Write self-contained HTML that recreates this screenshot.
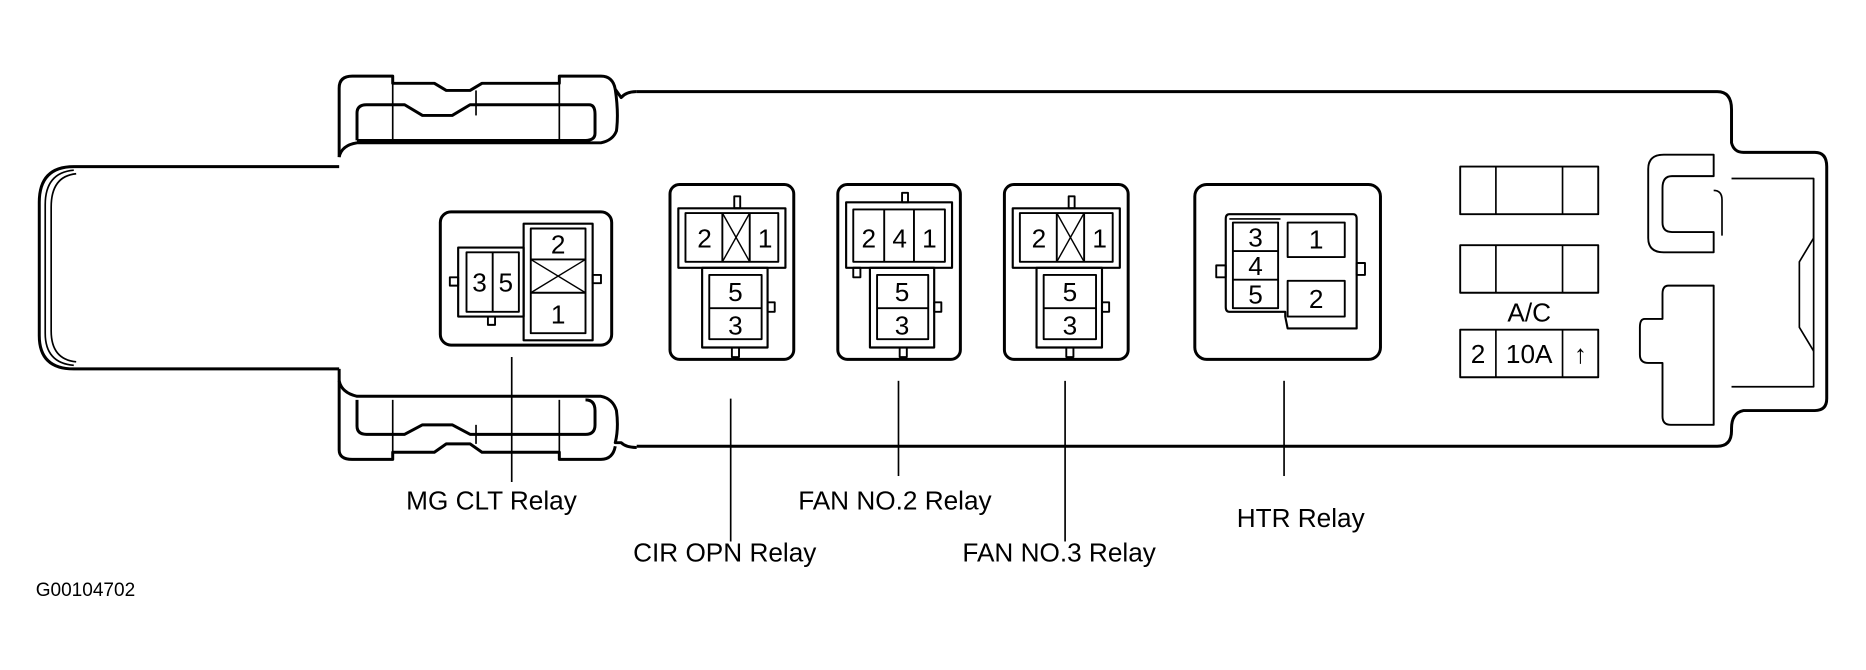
<!DOCTYPE html>
<html><head><style>html,body{margin:0;padding:0;background:#fff}svg{display:block}</style></head>
<body>
<svg width="1866" height="670" viewBox="0 0 1568 563" xmlns="http://www.w3.org/2000/svg" font-family="Liberation Sans, sans-serif">
<g fill="none" stroke="#000" stroke-width="2.5" stroke-linejoin="round">
<!-- plug -->
<path d="M285,140 L62,140 Q33,140 33,170 L33,282 Q33,310 62,310 L285,310"/>
<path d="M62,143 Q38,145 38,172 L38,280 Q38,305 62,307" stroke-width="1.4"/>
<path d="M64,146 Q43,148 43,174 L43,278 Q43,302 64,304" stroke-width="1.4"/>
<!-- upper tab -->
<path d="M285,132 L285,74 Q285,64 296,64 L330,64 L330,70 L365,70 L375,76 L395,76 L405,70 L470,70 L470,64 L505,64 Q515,64 517,75 L522,82 Q526,77 535,77"/>
<path d="M300,118 L300,95 Q300,88 308,88 L340,88 L355,97 L380,97 L395,88 L495,88 Q500,88 500,96 L500,112 Q500,118 492,118 L300,118"/>
<line x1="330" y1="64" x2="330" y2="118" stroke-width="1.4"/>
<line x1="470" y1="64" x2="470" y2="118" stroke-width="1.4"/>
<line x1="400" y1="76" x2="400" y2="97" stroke-width="1.4"/>
<path d="M517,75 Q520,95 518,110 Q515,118 505,120 L300,120 Q287,122 285,132" />
<!-- lower tab -->
<path d="M285,320 Q287,330 300,333 L505,333 Q515,335 518,345 Q520,360 517,372 L522,372 Q526,376 535,376"/>
<path d="M300,336 L300,358 Q300,365 308,365 L340,365 L355,357 L380,357 L395,365 L492,365 Q500,365 500,357 L500,345 Q500,336 492,336"/>
<path d="M285,310 L285,378 Q285,386 296,386 L330,386 L330,380 L365,380 L375,373 L395,373 L405,380 L470,380 L470,386 L505,386 Q515,386 517,375"/>
<line x1="330" y1="336" x2="330" y2="386" stroke-width="1.4"/>
<line x1="470" y1="336" x2="470" y2="386" stroke-width="1.4"/>
<line x1="400" y1="357" x2="400" y2="373" stroke-width="1.4"/>
<!-- main body -->
<path d="M535,77 L1443,77 Q1455,77 1455,92 L1455,120 Q1457,128 1465,128 L1525,128 Q1535,128 1535,140 L1535,335 Q1535,345 1525,345 L1465,345 Q1455,347 1455,360 L1455,362 Q1455,375 1443,375 L535,375"/>
<path d="M1455,150 L1524,150 L1524,325 L1455,325" stroke-width="1.4"/>
<path d="M1524,150 L1524,200 L1512,220 L1512,275 L1524,295" stroke-width="1.4"/>
<path d="M1440,130 L1398,130 Q1385,130 1385,142 L1385,200 Q1385,212 1398,212 L1440,212 L1440,195 L1405,195 Q1397,195 1397,187 L1397,158 Q1397,148 1405,148 L1440,148 Z" stroke-width="1.6"/>
<path d="M1440,160 Q1447,160 1447,168 L1447,198" stroke-width="1.4"/>
<path d="M1440,240 L1402,240 Q1397,240 1397,247 L1397,268 L1382,268 Q1378,268 1378,275 L1378,298 Q1378,305 1385,305 L1397,305 L1397,350 Q1397,357 1404,357 L1440,357 Z" stroke-width="1.6"/>
<!-- MG CLT relay -->
<rect x="370" y="178" width="144" height="112" rx="9"/>
<rect x="385" y="208" width="55" height="58" stroke-width="1.8"/>
<rect x="392" y="212" width="44" height="50" stroke-width="1.6"/>
<line x1="414" y1="212" x2="414" y2="262" stroke-width="1.6"/>
<rect x="440" y="188" width="58" height="98" stroke-width="1.8"/>
<rect x="446" y="192" width="46" height="88" stroke-width="1.6"/>
<line x1="446" y1="218" x2="492" y2="218" stroke-width="1.6"/>
<line x1="446" y1="246" x2="492" y2="246" stroke-width="1.6"/>
<line x1="446" y1="218" x2="492" y2="246" stroke-width="1.2"/>
<line x1="492" y1="218" x2="446" y2="246" stroke-width="1.2"/>
<rect x="378" y="233" width="7" height="7" stroke-width="1.6"/>
<rect x="498" y="231" width="7" height="7" stroke-width="1.6"/>
<rect x="410" y="266" width="6" height="7" stroke-width="1.6"/>
<line x1="430" y1="300" x2="430" y2="405" stroke-width="1.4"/>
<!-- CIR OPN -->
<g id="r1">
<rect x="563" y="155" width="104" height="147" rx="8"/>
<rect x="570" y="175" width="90" height="50" stroke-width="1.8"/>
<rect x="576" y="179" width="78" height="41" stroke-width="1.6"/>
<line x1="607" y1="179" x2="607" y2="220" stroke-width="1.6"/>
<line x1="630" y1="179" x2="630" y2="220" stroke-width="1.6"/>
<line x1="607" y1="179" x2="630" y2="220" stroke-width="1.2"/>
<line x1="630" y1="179" x2="607" y2="220" stroke-width="1.2"/>
<rect x="617" y="165" width="5" height="10" stroke-width="1.6"/>
<rect x="590" y="225" width="55" height="67" stroke-width="1.8"/>
<rect x="596" y="231" width="44" height="54" stroke-width="1.6"/>
<line x1="596" y1="259" x2="640" y2="259" stroke-width="1.6"/>
<rect x="645" y="254" width="6" height="8" stroke-width="1.6"/>
<rect x="615" y="292" width="6" height="8" stroke-width="1.6"/>
</g>
<use href="#r1" x="281"/>
<line x1="614" y1="335" x2="614" y2="455" stroke-width="1.4"/>
<line x1="895" y1="320" x2="895" y2="455" stroke-width="1.4"/>
<!-- FAN NO.2 -->
<rect x="704" y="155" width="103" height="147" rx="8"/>
<rect x="711" y="170" width="89" height="55" stroke-width="1.8"/>
<rect x="717" y="176" width="77" height="44" stroke-width="1.6"/>
<line x1="743" y1="176" x2="743" y2="220" stroke-width="1.6"/>
<line x1="768" y1="176" x2="768" y2="220" stroke-width="1.6"/>
<rect x="758" y="162" width="5" height="8" stroke-width="1.6"/>
<rect x="717" y="225" width="6" height="8" stroke-width="1.6"/>
<rect x="731" y="225" width="54" height="67" stroke-width="1.8"/>
<rect x="737" y="231" width="43" height="54" stroke-width="1.6"/>
<line x1="737" y1="259" x2="780" y2="259" stroke-width="1.6"/>
<rect x="785" y="254" width="6" height="8" stroke-width="1.6"/>
<rect x="756" y="292" width="6" height="8" stroke-width="1.6"/>
<line x1="755" y1="320" x2="755" y2="400" stroke-width="1.4"/>
<!-- HTR -->
<rect x="1004" y="155" width="156" height="147" rx="10"/>
<path d="M1033,180 L1137,180 Q1140,180 1140,184 L1140,276 L1082,276 L1080,266 L1080,262 L1033,262 Q1030,262 1030,258 L1030,184 Q1030,180 1033,180 Z" stroke-width="1.8"/>
<line x1="1033" y1="184" x2="1076" y2="184" stroke-width="1.4"/>
<rect x="1036" y="187" width="38" height="72" stroke-width="1.6"/>
<line x1="1036" y1="211" x2="1074" y2="211" stroke-width="1.6"/>
<line x1="1036" y1="235" x2="1074" y2="235" stroke-width="1.6"/>
<rect x="1082" y="187" width="48" height="29" stroke-width="1.6"/>
<rect x="1082" y="236" width="48" height="30" stroke-width="1.6"/>
<rect x="1022" y="223" width="8" height="10" stroke-width="1.6"/>
<rect x="1140" y="221" width="7" height="10" stroke-width="1.6"/>
<line x1="1079" y1="320" x2="1079" y2="400" stroke-width="1.4"/>
<!-- fuses -->
<rect x="1227" y="140" width="116" height="40" stroke-width="1.6"/>
<line x1="1257" y1="140" x2="1257" y2="180" stroke-width="1.4"/>
<line x1="1313" y1="140" x2="1313" y2="180" stroke-width="1.4"/>
<rect x="1227" y="206" width="116" height="40" stroke-width="1.6"/>
<line x1="1257" y1="206" x2="1257" y2="246" stroke-width="1.4"/>
<line x1="1313" y1="206" x2="1313" y2="246" stroke-width="1.4"/>
<rect x="1227" y="277" width="116" height="40" stroke-width="1.6"/>
<line x1="1257" y1="277" x2="1257" y2="317" stroke-width="1.4"/>
<line x1="1313" y1="277" x2="1313" y2="317" stroke-width="1.4"/>
</g>
<g font-size="22" text-anchor="middle" fill="#000">
<text x="403" y="245">3</text><text x="425" y="245">5</text>
<text x="469" y="213">2</text><text x="469" y="272">1</text>
<text x="592" y="208">2</text><text x="643" y="208">1</text>
<text x="618" y="253">5</text><text x="618" y="281">3</text>
<text x="730" y="208">2</text><text x="756" y="208">4</text><text x="781" y="208">1</text>
<text x="758" y="253">5</text><text x="758" y="281">3</text>
<text x="873" y="208">2</text><text x="924" y="208">1</text>
<text x="899" y="253">5</text><text x="899" y="281">3</text>
<text x="1055" y="207">3</text><text x="1055" y="231">4</text><text x="1055" y="255">5</text>
<text x="1106" y="209">1</text><text x="1106" y="259">2</text>
<text x="1285" y="270">A/C</text>
<text x="1242" y="305">2</text><text x="1285" y="305">10A</text><text x="1328" y="305">↑</text>
</g>
<g font-size="22" text-anchor="middle" fill="#000">
<text x="413" y="428">MG CLT Relay</text>
<text x="609" y="472">CIR OPN Relay</text>
<text x="752" y="428">FAN NO.2 Relay</text>
<text x="890" y="472">FAN NO.3 Relay</text>
<text x="1093" y="443">HTR Relay</text>
</g>
<text x="30" y="501" font-size="16" fill="#000">G00104702</text>
</svg>
</body></html>
